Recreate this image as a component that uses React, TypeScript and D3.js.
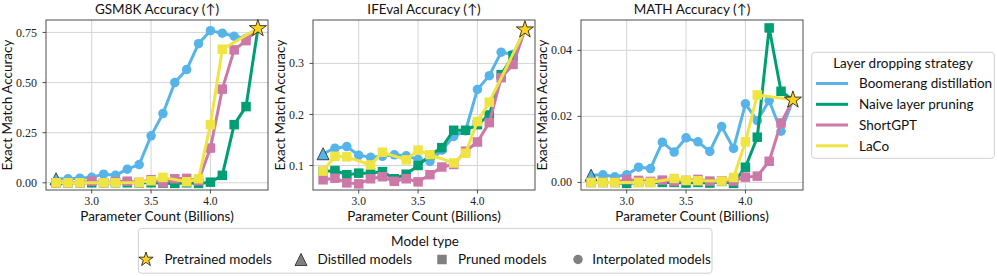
import React from "react";
import * as d3 from "d3";

// ---------- data ----------
const PANEL_TITLES = ["GSM8K Accuracy (↑)", "IFEval Accuracy (↑)", "MATH Accuracy (↑)"];
const STRATEGIES = ["Boomerang distillation", "Naive layer pruning", "ShortGPT", "LaCo"];
const STRATEGY_COLORS = ["#56B4E9", "#009E73", "#CC79A7", "#F0E442"];
const MODEL_TYPES = ["Pretrained models", "Distilled models", "Pruned models", "Interpolated models"];

const X_INTERPOLATED = [2.8, 2.9, 3.0, 3.1, 3.2, 3.3, 3.4, 3.5, 3.6, 3.7, 3.8, 3.9, 4.0, 4.1, 4.2, 4.3];
const X_PRUNED = [2.7, 2.8, 2.9, 3.0, 3.1, 3.2, 3.3, 3.4, 3.5, 3.6, 3.7, 3.8, 3.9, 4.0, 4.1, 4.2, 4.3];
const X_LACO = [2.7, 2.8, 2.9, 3.1, 3.2, 3.4, 3.5, 3.6, 3.8, 3.9, 4.0, 4.1];
const X_DISTILLED = 2.7;
const X_PRETRAINED = 4.4;

const DISTILLED_VALUES = [0.02, 0.123, 0.0022];
const PRETRAINED_VALUES = [0.77, 0.366, 0.025];

const GSM8K_BOOMERANG = [0.02, 0.023, 0.027, 0.043, 0.037, 0.068, 0.091, 0.234, 0.345, 0.5, 0.565, 0.694, 0.759, 0.746, 0.731, 0.72];
const GSM8K_NAIVE = [0, 0, 0, 0, 0, 0, 0, 0, 0, -0.002, -0.003, 0, -0.003, 0.003, 0.037, 0.29, 0.38];
const GSM8K_SHORTGPT = [0, 0, 0, 0.008, 0, 0.005, 0.008, 0.002, 0.015, 0, 0.02, 0.022, 0.01, 0.173, 0.467, 0.663, 0.709];
const GSM8K_LACO = [0, 0, 0, 0, 0, 0.002, 0.01, 0.027, 0.005, 0.02, 0.29, 0.666];

const IFEVAL_BOOMERANG = [0.134, 0.137, 0.12, 0.116, 0.118, 0.121, 0.119, 0.112, 0.108, 0.13, 0.157, 0.168, 0.249, 0.276, 0.322, 0.318];
const IFEVAL_NAIVE = [0.088, 0.09, 0.082, 0.085, 0.085, 0.088, 0.074, 0.083, 0.1, 0.12, 0.135, 0.169, 0.169, 0.18, 0.199, 0.278, 0.315];
const IFEVAL_SHORTGPT = [0.072, 0.075, 0.066, 0.064, 0.074, 0.078, 0.069, 0.074, 0.068, 0.082, 0.097, 0.102, 0.128, 0.146, 0.184, 0.272, 0.298];
const IFEVAL_LACO = [0.089, 0.118, 0.117, 0.101, 0.126, 0.111, 0.13, 0.121, 0.105, 0.124, 0.186, 0.224];

const MATH_BOOMERANG = [0.0023, 0.0017, 0.0023, 0.0046, 0.0042, 0.0122, 0.0092, 0.0135, 0.0123, 0.0094, 0.0169, 0.0103, 0.0238, 0.0187, 0.0248, 0.0155];
const MATH_NAIVE = [0, 0, 0, -0.0003, 0, 0, 0, 0, -0.0002, 0, -0.0002, 0.0003, -0.0003, 0.0046, 0.0137, 0.0468, 0.0276];
const MATH_SHORTGPT = [0, 0, 0, 0.0008, 0.0006, 0.0003, 0.0007, 0.0003, 0.0006, 0.0009, 0.0004, 0.0005, 0.0004, 0.0016, 0.0019, 0.0064, 0.018];
const MATH_LACO = [0, 0, 0, 0, 0, 0.0012, 0.0006, 0.0005, 0.0004, 0.0015, 0.0123, 0.0265];

const X_TICKS = [3.0, 3.5, 4.0];
const Y_TICKS = [[0, 0.25, 0.5, 0.75], [0.1, 0.2, 0.3], [0, 0.02, 0.04]];
const Y_TICK_FORMATS = [".2f", ".1f", ".2f"];
const X_DOMAIN = [2.615, 4.485];
const Y_DOMAINS = [[-0.036, 0.812], [0.052, 0.385], [-0.0023, 0.0492]];

const PANEL_SERIES = [
  [GSM8K_BOOMERANG, GSM8K_NAIVE, GSM8K_SHORTGPT, GSM8K_LACO],
  [IFEVAL_BOOMERANG, IFEVAL_NAIVE, IFEVAL_SHORTGPT, IFEVAL_LACO],
  [MATH_BOOMERANG, MATH_NAIVE, MATH_SHORTGPT, MATH_LACO],
];

// ---------- layout / style ----------
const W = 997;
const H = 276;
const PANEL_LEFTS = [46, 313, 581];
const PANEL_W = 222;
const TOP = 20;
const BOTTOM = 190;
const YLABEL_OFFSETS = [34, 28, 34];

const SANS = "Lato, 'DejaVu Sans', sans-serif";
const SERIF = "'Liberation Serif', 'DejaVu Serif', serif";
const GRID = "#d4d4d4";
const SPINE = "#3a3a3a";
const STAR_FILL = "#FFD21F";
const LW = 3;
const MS = 9.5;

const starPath = d3.symbol().type(d3.symbolStar).size((9 * 9) / 0.8908130915292852)();
const legendStarPath = d3.symbol().type(d3.symbolStar).size((7.5 * 7.5) / 0.8908130915292852)();

function trianglePath(s: number) {
  const h = s / 2;
  return `M0,${-h}L${-h},${h}L${h},${h}Z`;
}

function Panel({ idx }: { idx: number }) {
  const left = PANEL_LEFTS[idx];
  const x = d3.scaleLinear().domain(X_DOMAIN).range([left, left + PANEL_W]);
  const y = d3.scaleLinear().domain(Y_DOMAINS[idx]).range([BOTTOM, TOP]);
  const fmt = d3.format(Y_TICK_FORMATS[idx]);
  const line = d3
    .line<[number, number]>()
    .x((d) => x(d[0]))
    .y((d) => y(d[1]));
  const series = PANEL_SERIES[idx];
  const star: [number, number] = [X_PRETRAINED, PRETRAINED_VALUES[idx]];
  const tri: [number, number] = [X_DISTILLED, DISTILLED_VALUES[idx]];
  const cx = left + PANEL_W / 2;

  const lines = series.map((vals, si) => {
    const xs = si === 0 ? X_INTERPOLATED : si === 3 ? X_LACO : X_PRUNED;
    const pts: [number, number][] = xs.map((xv, i) => [xv, vals[i]]);
    const all: [number, number][] = si === 0 ? [tri, ...pts, star] : [...pts, star];
    return { si, pts, all };
  });

  return (
    <g>
      {/* grid */}
      {X_TICKS.map((t) => (
        <line key={"gx" + t} x1={x(t)} x2={x(t)} y1={TOP} y2={BOTTOM} stroke={GRID} strokeWidth={1} />
      ))}
      {Y_TICKS[idx].map((t) => (
        <line key={"gy" + t} x1={left} x2={left + PANEL_W} y1={y(t)} y2={y(t)} stroke={GRID} strokeWidth={1} />
      ))}
      {/* series */}
      {lines.map(({ si, pts, all }) => (
        <g key={"s" + si}>
          <path d={line(all) || ""} fill="none" stroke={STRATEGY_COLORS[si]} strokeWidth={LW} strokeLinejoin="round" />
          {si === 0 &&
            pts.map((p, i) => (
              <circle key={i} cx={x(p[0])} cy={y(p[1])} r={MS / 2} fill={STRATEGY_COLORS[si]} />
            ))}
          {si !== 0 &&
            pts.map((p, i) => (
              <rect key={i} x={x(p[0]) - MS / 2} y={y(p[1]) - MS / 2} width={MS} height={MS} fill={STRATEGY_COLORS[si]} />
            ))}
          {si === 0 && (
            <path
              d={trianglePath(12)}
              transform={`translate(${x(tri[0])},${y(tri[1])})`}
              fill={STRATEGY_COLORS[0]}
              stroke="#222"
              strokeWidth={0.8}
            />
          )}
        </g>
      ))}
      <path d={starPath || ""} transform={`translate(${x(star[0])},${y(star[1])})`} fill={STAR_FILL} stroke="#111" strokeWidth={0.8} />
      {/* spines */}
      <rect x={left} y={TOP} width={PANEL_W} height={BOTTOM - TOP} fill="none" stroke={SPINE} strokeWidth={0.9} />
      {/* ticks */}
      {X_TICKS.map((t) => (
        <g key={"tx" + t}>
          <line x1={x(t)} x2={x(t)} y1={BOTTOM} y2={BOTTOM + 3.5} stroke={SPINE} strokeWidth={0.9} />
          <text x={x(t)} y={BOTTOM + 14.5} textAnchor="middle" fontFamily={SERIF} fontSize={11.5} fill="#222">
            {d3.format(".1f")(t)}
          </text>
        </g>
      ))}
      {Y_TICKS[idx].map((t) => (
        <g key={"ty" + t}>
          <line x1={left - 3.5} x2={left} y1={y(t)} y2={y(t)} stroke={SPINE} strokeWidth={0.9} />
          <text x={left - 9} y={y(t)} dy="0.34em" textAnchor="end" fontFamily={SERIF} fontSize={12} fill="#222">
            {fmt(t)}
          </text>
        </g>
      ))}
      {/* labels */}
      <text x={cx} y={13.5} textAnchor="middle" fontFamily={SANS} fontSize={13.5} fill="#111">
        {PANEL_TITLES[idx]}
      </text>
      <text x={cx} y={220.5} textAnchor="middle" fontFamily={SANS} fontSize={13.5} fill="#111">
        Parameter Count (Billions)
      </text>
      <text
        transform={`translate(${left - YLABEL_OFFSETS[idx]},${(TOP + BOTTOM) / 2}) rotate(-90)`}
        textAnchor="middle"
        fontFamily={SANS}
        fontSize={13.5}
        fill="#111"
      >
        Exact Match Accuracy
      </text>
    </g>
  );
}

function StrategyLegend() {
  const entryY = [83.5, 104.3, 125, 145.8];
  return (
    <g>
      <rect x={811.7} y={52.3} width={182.6} height={106} rx={3} fill="white" fillOpacity={0.8} stroke="#d0d0d0" strokeWidth={1} />
      <text x={903} y={68.3} textAnchor="middle" fontFamily={SANS} fontSize={13.5} fill="#111">
        Layer dropping strategy
      </text>
      {STRATEGIES.map((s, i) => (
        <g key={s}>
          <line x1={816} x2={848} y1={entryY[i]} y2={entryY[i]} stroke={STRATEGY_COLORS[i]} strokeWidth={LW} />
          <text x={859} y={entryY[i] + 4.8} fontFamily={SANS} fontSize={13.5} fill="#111">
            {s}
          </text>
        </g>
      ))}
    </g>
  );
}

function ModelLegend() {
  const my = 259.5;
  const markerX = [146, 301, 442, 578];
  const textX = [164.4, 317.5, 458, 592.3];
  const gray = "#808080";
  return (
    <g>
      <rect x={138.4} y={228.4} width={573.6} height={44.8} rx={3} fill="white" fillOpacity={0.8} stroke="#d0d0d0" strokeWidth={1} />
      <text x={425} y={246.4} textAnchor="middle" fontFamily={SANS} fontSize={13.5} fill="#111">
        Model type
      </text>
      <path d={legendStarPath || ""} transform={`translate(${markerX[0]},${my})`} fill={STAR_FILL} stroke="#111" strokeWidth={0.8} />
      <path d={trianglePath(12)} transform={`translate(${markerX[1]},${my})`} fill={gray} stroke="#222" strokeWidth={0.8} />
      <rect x={markerX[2] - MS / 2} y={my - MS / 2} width={MS} height={MS} fill={gray} />
      <circle cx={markerX[3]} cy={my} r={MS / 2} fill={gray} />
      {MODEL_TYPES.map((m, i) => (
        <text key={m} x={textX[i]} y={264} fontFamily={SANS} fontSize={13.5} fill="#111">
          {m}
        </text>
      ))}
    </g>
  );
}

export default function App() {
  return (
    <svg
      width={W}
      height={H}
      viewBox={`0 0 ${W} ${H}`}
      style={{ position: "absolute", left: 0, top: 0, background: "white" }}
    >
      <rect x={0} y={0} width={W} height={H} fill="white" />
      {[0, 1, 2].map((i) => (
        <Panel key={i} idx={i} />
      ))}
      <StrategyLegend />
      <ModelLegend />
    </svg>
  );
}
